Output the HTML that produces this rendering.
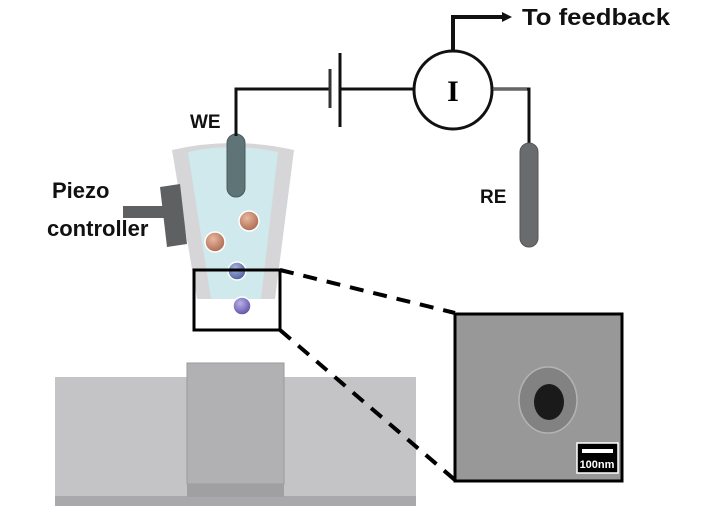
<!DOCTYPE html>
<html><head><style>body{margin:0;background:#fff}svg{display:block}</style></head><body>
<svg width="704" height="507" viewBox="0 0 704 507" xmlns="http://www.w3.org/2000/svg" font-family="Liberation Sans, sans-serif">
<defs>
<radialGradient id="br" cx="0.4" cy="0.35" r="0.7"><stop offset="0" stop-color="#e8b8a0"/><stop offset="1" stop-color="#a8664c"/></radialGradient>
<radialGradient id="bl" cx="0.4" cy="0.35" r="0.7"><stop offset="0" stop-color="#a8b8e0"/><stop offset="1" stop-color="#4a5a98"/></radialGradient>
<radialGradient id="pu" cx="0.4" cy="0.35" r="0.7"><stop offset="0" stop-color="#b8b0e8"/><stop offset="1" stop-color="#5a4ca0"/></radialGradient>
</defs>
<rect x="55" y="377" width="361" height="120" fill="#c4c4c6"/>
<rect x="55" y="496" width="361" height="10" fill="#a9a9ab"/>
<rect x="187" y="363" width="97" height="121" fill="#b1b1b3" stroke="#9a9a9c" stroke-width="1"/>
<rect x="187" y="484" width="97" height="13" fill="#a0a0a2"/>
<path d="M172 150 Q233 136 294 150 L275 299 L197 299 Z" fill="#d6d6d8"/>
<path d="M188 152 Q233 142 278 152 L261 299 L211 299 Z" fill="#cfe9ec"/>
<rect x="227" y="134" width="18" height="63" rx="9" fill="#5f7477" stroke="#4a5a5c"/>
<circle cx="249" cy="221" r="10" fill="url(#br)" stroke="#fff" stroke-width="1.5"/>
<circle cx="215" cy="242" r="10" fill="url(#br)" stroke="#fff" stroke-width="1.5"/>
<circle cx="237" cy="271" r="9" fill="url(#bl)" stroke="#fff" stroke-width="1.5"/>
<circle cx="242" cy="306" r="9" fill="url(#pu)" stroke="#fff" stroke-width="1.5"/>
<rect x="194" y="270" width="86" height="60" fill="none" stroke="#000" stroke-width="3"/>
<rect x="123" y="206" width="45" height="12" fill="#5f6062"/>
<path d="M160 187 L180 184 L187 244 L167 247 Z" fill="#5f6062"/>
<text x="52" y="198" font-size="22" font-weight="bold" fill="#111">Piezo</text>
<text x="47" y="236" font-size="22" font-weight="bold" fill="#111">controller</text>
<text x="190" y="128" font-size="19" font-weight="bold" fill="#111">WE</text>
<polyline points="236,136 236,89 330,89" fill="none" stroke="#111" stroke-width="3"/>
<line x1="330" y1="69" x2="330" y2="108" stroke="#333" stroke-width="3"/>
<line x1="340" y1="53" x2="340" y2="127" stroke="#111" stroke-width="3"/>
<line x1="340" y1="89" x2="413" y2="89" stroke="#111" stroke-width="3"/>
<circle cx="453" cy="90" r="39" fill="#fff" stroke="#111" stroke-width="3"/>
<text x="453" y="101" font-size="30" font-weight="bold" font-family="Liberation Serif, serif" text-anchor="middle">I</text>
<polyline points="453,51 453,17 505,17" fill="none" stroke="#111" stroke-width="4"/>
<path d="M502 12 L512 17 L502 22 Z" fill="#111"/>
<text x="522" y="25" font-size="23" font-weight="bold" fill="#111" textLength="148" lengthAdjust="spacingAndGlyphs">To feedback</text>
<polyline points="493,89 529,89 529,145" fill="none" stroke="#111" stroke-width="3"/>
<line x1="493" y1="89" x2="527" y2="89" stroke="#666" stroke-width="2"/>
<rect x="520" y="143" width="18" height="104" rx="9" fill="#6a6b6d" stroke="#555"/>
<text x="480" y="203" font-size="19" font-weight="bold" fill="#111">RE</text>
<line x1="280" y1="270" x2="455" y2="313" stroke="#000" stroke-width="4" stroke-dasharray="14,10"/>
<line x1="280" y1="330" x2="455" y2="480" stroke="#000" stroke-width="4" stroke-dasharray="14,10"/>
<rect x="455" y="314" width="167" height="167" fill="#989899" stroke="#000" stroke-width="3"/>
<ellipse cx="548" cy="400" rx="29" ry="33" fill="#828283" stroke="#b4b4b4" stroke-width="1.5"/>
<ellipse cx="549" cy="402" rx="15" ry="18" fill="#1a1a1a"/>
<rect x="577" y="443" width="41" height="30" fill="#000" stroke="#fff" stroke-width="1.5"/>
<rect x="582" y="449" width="31" height="4" fill="#fff"/>
<text x="597" y="468" font-size="11" font-weight="bold" fill="#fff" text-anchor="middle">100nm</text>
</svg>
</body></html>
